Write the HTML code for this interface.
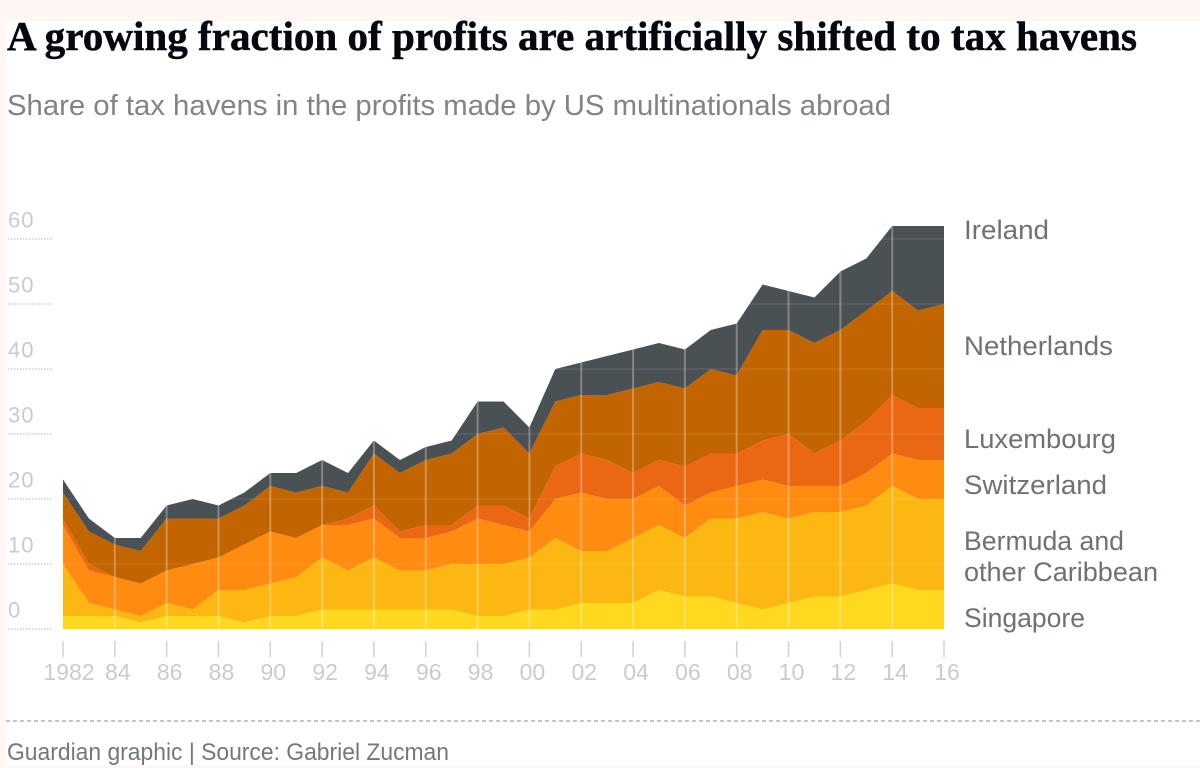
<!DOCTYPE html>
<html lang="en">
<head>
<meta charset="utf-8">
<title>A growing fraction of profits are artificially shifted to tax havens</title>
<style>
html,body{margin:0;padding:0;background:#fff;}
svg{display:block;}
text{font-family:"Liberation Sans",sans-serif;}
</style>
</head>
<body>
<svg id="chart" width="1200" height="768" viewBox="0 0 1200 768" xmlns="http://www.w3.org/2000/svg">
  <rect x="0" y="0" width="1200" height="768" fill="#fff"/>
  <rect x="0" y="0" width="1200" height="21" fill="#fef7f3"/>
  <rect x="0" y="0" width="6" height="768" fill="#fef7f3"/>
  <rect x="0" y="765" width="1200" height="3" fill="#fef7f3"/>
  <text x="7" y="50" font-size="41" font-weight="700" fill="#05090f" stroke="#05090f" stroke-width="0.5" textLength="1130" lengthAdjust="spacingAndGlyphs" style="font-family:'Liberation Serif',serif">A growing fraction of profits are artificially shifted to tax havens</text>
  <text x="7" y="115" font-size="29" fill="#808488" textLength="884" lengthAdjust="spacingAndGlyphs">Share of tax havens in the profits made by US multinationals abroad</text>
  <g id="y-axis"></g>
  <g id="areas"></g>
  <g id="grid-overlay"></g>
  <g id="x-axis"></g>
  <g font-size="27" fill="#6d7278">
    <text x="964" y="239" textLength="85" lengthAdjust="spacingAndGlyphs">Ireland</text>
    <text x="964" y="355" textLength="149" lengthAdjust="spacingAndGlyphs">Netherlands</text>
    <text x="964" y="448" textLength="152" lengthAdjust="spacingAndGlyphs">Luxembourg</text>
    <text x="964" y="494" textLength="143" lengthAdjust="spacingAndGlyphs">Switzerland</text>
    <text x="964" y="550" textLength="160" lengthAdjust="spacingAndGlyphs">Bermuda and</text>
    <text x="964" y="581" textLength="194" lengthAdjust="spacingAndGlyphs">other Caribbean</text>
    <text x="964" y="627" textLength="121" lengthAdjust="spacingAndGlyphs">Singapore</text>
  </g>
  <line x1="6" y1="721" x2="1200" y2="721" stroke="#b4b4b4" stroke-width="1.5" stroke-dasharray="4 3"/>
  <text x="7" y="760" font-size="24" fill="#74787d" textLength="442" lengthAdjust="spacingAndGlyphs">Guardian graphic | Source: Gabriel Zucman</text>
</svg>
<script>
const years = [1982,1983,1984,1985,1986,1987,1988,1989,1990,1991,1992,1993,1994,1995,1996,1997,1998,1999,2000,2001,2002,2003,2004,2005,2006,2007,2008,2009,2010,2011,2012,2013,2014,2015,2016];
const singapore   = [2,2,2,1,2,2,2,1,2,2,3,3,3,3,3,3,2,2,3,3,4,4,4,6,5,5,4,3,4,5,5,6,7,6,6];
const bermuda     = [8,2,1,1,2,1,4,5,5,6,8,6,8,6,6,7,8,8,8,11,8,8,10,10,9,12,13,15,13,13,13,13,15,14,14];
const switzerland = [6,5,5,5,5,7,5,7,8,6,5,7,6,5,5,5,7,6,4,6,9,8,6,6,5,4,5,5,5,4,4,5,5,6,6];
const luxembourg  = [1,1,0,0,0,0,0,0,0,0,0,1,2,1,2,1,2,3,2,5,6,6,4,4,6,6,5,6,8,5,7,8,9,8,8];
const netherlands = [4,5,5,5,8,7,6,6,7,7,6,4,8,9,10,11,11,12,10,10,9,10,13,12,12,13,12,17,16,17,17,17,16,15,16];
const ireland     = [2,2,1,2,2,3,2,2,2,3,4,3,2,2,2,2,5,4,4,5,5,6,6,6,6,6,8,7,6,7,9,8,10,13,12];
const seriesNames = ['singapore','bermuda','switzerland','luxembourg','netherlands','ireland'];
const seriesValues = [singapore,bermuda,switzerland,luxembourg,netherlands,ireland];
const seriesColors = ['#ffd81f','#fdb713','#ff8b10','#ea6813','#c26400','#4a5155'];
const yTicks = [0,10,20,30,40,50,60];
const xTicks = [1982,1984,1986,1988,1990,1992,1994,1996,1998,2000,2002,2004,2006,2008,2010,2012,2014,2016];
const xTickLabels = ['1982','84','86','88','90','92','94','96','98','00','02','04','06','08','10','12','14','16'];

const NS = 'http://www.w3.org/2000/svg';
function xScale(year){ return 63 + (year - 1982) * (944 - 63) / (2016 - 1982); }
function yScale(value){ return 629 - value * 6.5; }
function make(tag, attrs){
  const el = document.createElementNS(NS, tag);
  for (const k in attrs) el.setAttribute(k, attrs[k]);
  return el;
}

const yAxis = document.getElementById('y-axis');
const xAxis = document.getElementById('x-axis');
const areas = document.getElementById('areas');
const overlay = document.getElementById('grid-overlay');

let lower = years.map(function(){ return 0; });
seriesValues.forEach(function(values, s){
  const upper = values.map(function(v, i){ return lower[i] + v; });
  const topPts = years.map(function(y, i){ return xScale(y).toFixed(1) + ',' + yScale(upper[i]).toFixed(1); });
  const botPts = years.map(function(y, i){ return xScale(y).toFixed(1) + ',' + yScale(lower[i]).toFixed(1); }).reverse();
  const poly = make('polygon', {points: topPts.concat(botPts).join(' '), fill: seriesColors[s]});
  
  
  areas.appendChild(poly);
  lower = upper;
});

yTicks.forEach(function(t){
  const label = make('text', {x: 8, y: yScale(t) - 11.5, 'font-size': 22, 'letter-spacing': 1, fill: '#cbcbcb'});
  label.textContent = String(t);
  
  
  yAxis.appendChild(label);
  const dots = make('line', {x1: 8, x2: 52, y1: yScale(t), y2: yScale(t), stroke: '#cfcfcf', 'stroke-width': 1.5, 'stroke-dasharray': '1.5 1.5'});
  
  
  yAxis.appendChild(dots);
  if (t > 0) {
    const band = make('line', {x1: 63, x2: 944, y1: yScale(t), y2: yScale(t), stroke: 'rgba(255,255,255,0.09)', 'stroke-width': 1.5});
    
    
    overlay.appendChild(band);
  }
});

xTicks.forEach(function(yr, i){
  const x = xScale(yr);
  let topValue = 0;
  seriesValues.forEach(function(values){ topValue += values[years.indexOf(yr)]; });
  if (i > 0 && i < xTicks.length - 1) {
    const v = make('line', {x1: x, x2: x, y1: yScale(topValue), y2: 629, stroke: 'rgba(255,255,255,0.3)', 'stroke-width': 2});
    
    
    overlay.appendChild(v);
  }
  const tick = make('line', {x1: x, x2: x, y1: 641, y2: 657, stroke: '#d2d2d2', 'stroke-width': 1.5});
  
  
  xAxis.appendChild(tick);
  const label = make('text', {x: x + (i === 0 ? 6 : 3), y: 680, 'font-size': 23, fill: '#cbcbcb', 'text-anchor': 'middle'});
  label.textContent = xTickLabels[i];
  
  
  xAxis.appendChild(label);
});
</script>
</body>
</html>
